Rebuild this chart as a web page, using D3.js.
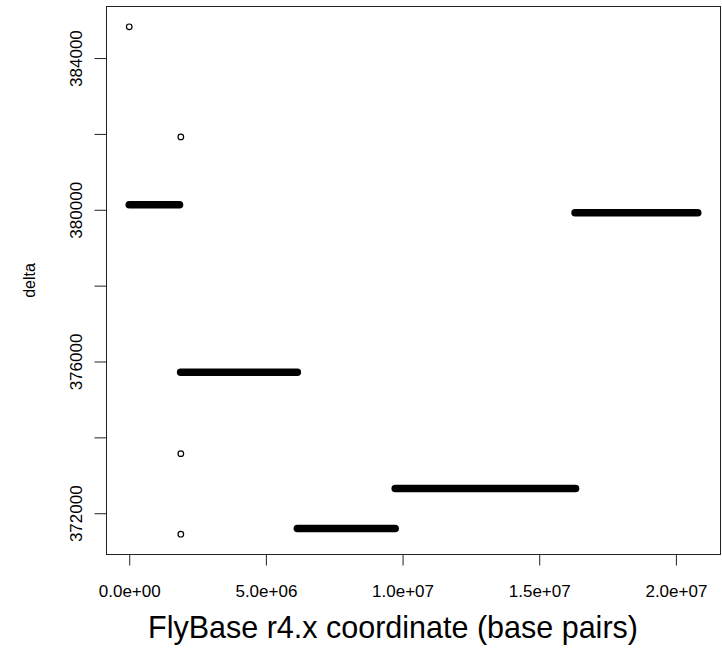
<!DOCTYPE html>
<html>
<head>
<meta charset="utf-8">
<script src="https://cdn.jsdelivr.net/npm/d3@7"></script>
<style>
  html, body { margin: 0; padding: 0; background: #fff; }
  svg { display: block; }
  text { font-family: "Liberation Sans", Arial, Helvetica, sans-serif; fill: #000; }
</style>
</head>
<body>
<script>
// ---- data ----
const segStart = [0, 1.88e6, 6.15e6, 9.73e6, 16.31e6];
const segEnd   = [1.84e6, 6.15e6, 9.73e6, 16.33e6, 20.8e6];
const segDelta = [380132, 375718, 371597, 372650, 379921];

const ptX     = [0, 1.887e6, 1.887e6, 1.887e6];
const ptDelta = [384824, 381921, 373571, 371447];

const xTicks = [0, 5e6, 1e7, 1.5e7, 2e7];
const xTickLabels = ["0.0e+00", "5.0e+06", "1.0e+07", "1.5e+07", "2.0e+07"];
const yTicks = [372000, 374000, 376000, 378000, 380000, 382000, 384000];
const yTickLabels = ["372000", "", "376000", "", "380000", "", "384000"];

const xTitle = "FlyBase r4.x coordinate (base pairs)";
const yTitle = "delta";

// ---- layout ----
const W = 722, H = 651;
const plot = { left: 106.5, right: 720.5, top: 6.5, bottom: 554.5 };

const allX = ptX.concat(segStart, segEnd);
const allY = ptDelta.concat(segDelta);
function ext(arr) {
  const [a, b] = d3.extent(arr);
  const p = 0.04 * (b - a);
  return [a - p, b + p];
}

const x = d3.scaleLinear().domain(ext(allX)).range([plot.left, plot.right]);
const y = d3.scaleLinear().domain(ext(allY)).range([plot.bottom, plot.top]);

const svg = d3.select("body").append("svg").attr("width", W).attr("height", H);

// box
svg.append("rect")
  .attr("x", plot.left).attr("y", plot.top)
  .attr("width", plot.right - plot.left).attr("height", plot.bottom - plot.top)
  .attr("fill", "none").attr("stroke", "#222").attr("stroke-width", 1);

// segments
svg.append("g").selectAll("line").data(segDelta).join("line")
  .attr("x1", (d, i) => x(segStart[i]))
  .attr("x2", (d, i) => x(segEnd[i]))
  .attr("y1", d => y(d)).attr("y2", d => y(d))
  .attr("stroke", "#000").attr("stroke-width", 7.5).attr("stroke-linecap", "round");

// open points
svg.append("g").selectAll("circle").data(ptDelta).join("circle")
  .attr("cx", (d, i) => x(ptX[i])).attr("cy", d => y(d)).attr("r", 2.8)
  .attr("fill", "none").attr("stroke", "#000").attr("stroke-width", 1.2);

// x axis
const xAxis = d3.axisBottom(x).tickValues(xTicks)
  .tickFormat((d, i) => xTickLabels[i]).tickSizeOuter(0).tickSize(11).tickPadding(19);
const gx = svg.append("g").attr("transform", `translate(0,${plot.bottom})`).call(xAxis);
gx.select(".domain").remove();
gx.selectAll(".tick line").attr("stroke", "#222");
gx.selectAll("text").attr("font-size", 17).attr("font-family", "\"Liberation Sans\", Arial, sans-serif").attr("fill", "#000");

// y axis
const yAxis = d3.axisLeft(y).tickValues(yTicks)
  .tickFormat((d, i) => yTickLabels[i]).tickSizeOuter(0).tickSize(12);
const gy = svg.append("g").attr("transform", `translate(${plot.left},0)`).call(yAxis);
gy.select(".domain").remove();
gy.selectAll(".tick line").attr("stroke", "#222");
gy.selectAll("text")
  .attr("font-size", 17).attr("font-family", "\"Liberation Sans\", Arial, sans-serif").attr("fill", "#000")
  .attr("text-anchor", "middle").attr("x", null).attr("dy", null)
  .attr("transform", "translate(-25,0) rotate(-90)")
  .attr("y", 0);

// titles
svg.append("text").attr("x", 393).attr("y", 638)
  .attr("text-anchor", "middle").attr("font-size", 30.5).text(xTitle);
svg.append("text").attr("transform", `translate(35,${(plot.top + plot.bottom) / 2}) rotate(-90)`)
  .attr("text-anchor", "middle").attr("font-size", 16).text(yTitle);
</script>
</body>
</html>
